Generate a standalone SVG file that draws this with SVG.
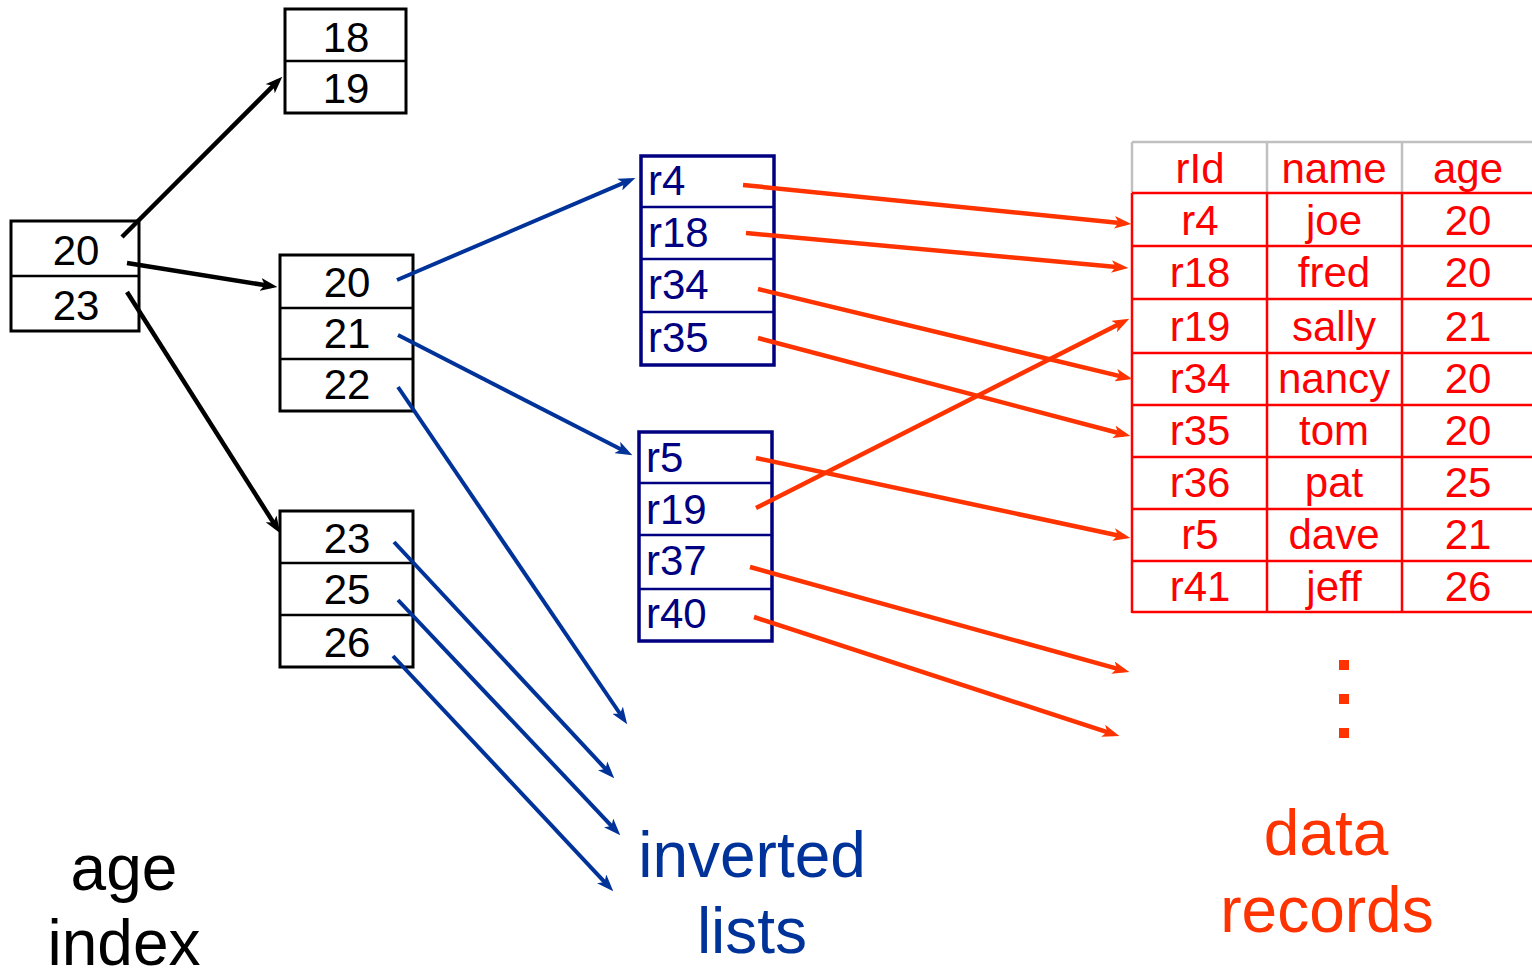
<svg xmlns="http://www.w3.org/2000/svg" width="1532" height="972" viewBox="0 0 1532 972">
<style>
text{font-family:"Liberation Sans",Arial,sans-serif}
.idx rect,.idx line{fill:none;stroke:#000;stroke-width:3}
.idx line{stroke-width:2.5}
.idx text{font-size:42px;fill:#000;text-anchor:middle}
.inv rect,.inv line{fill:none;stroke:#000080;stroke-width:3.5}
.inv line{stroke-width:2.5}
.inv text{font-size:42px;fill:#000080}
.tbl line{stroke:#f00;stroke-width:2.5}
.tbl line.hd{stroke:#c0c0c0}
.tbl text{font-size:42px;fill:#f00;text-anchor:middle}
.ck{stroke:#000;stroke-width:4.5;fill:none}
.cb{stroke:#003399;stroke-width:4;fill:none}
.co{stroke:#ff3300;stroke-width:4.5;fill:none}
.big{font-size:64px;text-anchor:middle}
</style>
<defs>
<marker id="ak" viewBox="0 0 16 12" refX="10" refY="6" markerUnits="userSpaceOnUse" markerWidth="17" markerHeight="13" orient="auto"><path d="M0,0 L16,6 L0,12 L4,6 Z" fill="#000"/></marker>
<marker id="ab" viewBox="0 0 16 12" refX="10" refY="6" markerUnits="userSpaceOnUse" markerWidth="17" markerHeight="13" orient="auto"><path d="M0,0 L16,6 L0,12 L4,6 Z" fill="#003399"/></marker>
<marker id="ao" viewBox="0 0 16 12" refX="10" refY="6" markerUnits="userSpaceOnUse" markerWidth="17" markerHeight="13" orient="auto"><path d="M0,0 L16,6 L0,12 L4,6 Z" fill="#ff3300"/></marker>
</defs>
<rect width="1532" height="972" fill="#fff"/>

<g id="idx-root" class="idx">
<rect x="11" y="221" width="128" height="110"/>
<line x1="11" y1="276" x2="139" y2="276"/>
<text x="76" y="265">20</text>
<text x="76" y="320">23</text>
</g>
<g id="idx-18" class="idx">
<rect x="285" y="9" width="121" height="104"/>
<line x1="285" y1="61" x2="406" y2="61"/>
<text x="346" y="52">18</text>
<text x="346" y="103">19</text>
</g>
<g id="idx-20" class="idx">
<rect x="280" y="255" width="133" height="156"/>
<line x1="280" y1="308" x2="413" y2="308"/>
<line x1="280" y1="359" x2="413" y2="359"/>
<text x="347" y="297">20</text>
<text x="347" y="348">21</text>
<text x="347" y="399">22</text>
</g>
<g id="idx-23" class="idx">
<rect x="280" y="511" width="133" height="156"/>
<line x1="280" y1="563" x2="413" y2="563"/>
<line x1="280" y1="615" x2="413" y2="615"/>
<text x="347" y="553">23</text>
<text x="347" y="604">25</text>
<text x="347" y="657">26</text>
</g>

<g id="inv-1" class="inv">
<rect x="641" y="156" width="133" height="209"/>
<line x1="641" y1="207" x2="774" y2="207"/>
<line x1="641" y1="259" x2="774" y2="259"/>
<line x1="641" y1="312" x2="774" y2="312"/>
<text x="648" y="195">r4</text>
<text x="648" y="247">r18</text>
<text x="648" y="299">r34</text>
<text x="648" y="352">r35</text>
</g>
<g id="inv-2" class="inv">
<rect x="639" y="432" width="133" height="209"/>
<line x1="639" y1="483" x2="772" y2="483"/>
<line x1="639" y1="535" x2="772" y2="535"/>
<line x1="639" y1="589" x2="772" y2="589"/>
<text x="646" y="472">r5</text>
<text x="646" y="524">r19</text>
<text x="646" y="575">r37</text>
<text x="646" y="628">r40</text>
</g>

<g id="records" class="tbl">
<line class="hd" x1="1132" y1="142" x2="1532" y2="142"/>
<line class="hd" x1="1132" y1="142" x2="1132" y2="193"/>
<line class="hd" x1="1267" y1="142" x2="1267" y2="193"/>
<line class="hd" x1="1402" y1="142" x2="1402" y2="193"/>
<line x1="1132" y1="193" x2="1532" y2="193"/>
<line x1="1132" y1="246" x2="1532" y2="246"/>
<line x1="1132" y1="299" x2="1532" y2="299"/>
<line x1="1132" y1="353" x2="1532" y2="353"/>
<line x1="1132" y1="405" x2="1532" y2="405"/>
<line x1="1132" y1="457" x2="1532" y2="457"/>
<line x1="1132" y1="509" x2="1532" y2="509"/>
<line x1="1132" y1="561" x2="1532" y2="561"/>
<line x1="1132" y1="612" x2="1532" y2="612"/>
<line x1="1132" y1="193" x2="1132" y2="613"/>
<line x1="1267" y1="193" x2="1267" y2="613"/>
<line x1="1402" y1="193" x2="1402" y2="613"/>
<text x="1200" y="183">rId</text><text x="1334" y="183">name</text><text x="1468" y="183">age</text>
<text x="1200" y="235">r4</text><text x="1334" y="235">joe</text><text x="1468" y="235">20</text>
<text x="1200" y="287">r18</text><text x="1334" y="287">fred</text><text x="1468" y="287">20</text>
<text x="1200" y="341">r19</text><text x="1334" y="341">sally</text><text x="1468" y="341">21</text>
<text x="1200" y="393">r34</text><text x="1334" y="393">nancy</text><text x="1468" y="393">20</text>
<text x="1200" y="445">r35</text><text x="1334" y="445">tom</text><text x="1468" y="445">20</text>
<text x="1200" y="497">r36</text><text x="1334" y="497">pat</text><text x="1468" y="497">25</text>
<text x="1200" y="549">r5</text><text x="1334" y="549">dave</text><text x="1468" y="549">21</text>
<text x="1200" y="601">r41</text><text x="1334" y="601">jeff</text><text x="1468" y="601">26</text>
</g>

<g id="dots" fill="#ff3300">
<rect x="1339" y="660" width="10" height="10"/>
<rect x="1339" y="694" width="10" height="10"/>
<rect x="1339" y="728" width="10" height="10"/>
</g>

<g id="connectors">
<line class="ck" x1="122" y1="237" x2="277.8" y2="81.2" marker-end="url(#ak)"/>
<line class="ck" x1="127" y1="263" x2="271.1" y2="286.1" marker-end="url(#ak)"/>
<line class="ck" x1="127" y1="292" x2="276.8" y2="527.9" marker-end="url(#ak)"/>
<line class="cb" x1="397" y1="280" x2="629.5" y2="180.4" marker-end="url(#ab)"/>
<line class="cb" x1="398" y1="335" x2="626.7" y2="452.3" marker-end="url(#ab)"/>
<line class="cb" x1="398" y1="387" x2="623.6" y2="719" marker-end="url(#ab)"/>
<line class="cb" x1="394" y1="542" x2="609.9" y2="773.6" marker-end="url(#ab)"/>
<line class="cb" x1="398" y1="600" x2="615.9" y2="830.6" marker-end="url(#ab)"/>
<line class="cb" x1="393" y1="656" x2="608.9" y2="886.6" marker-end="url(#ab)"/>
<line class="co" x1="743" y1="185" x2="1125" y2="223.4" marker-end="url(#ao)"/>
<line class="co" x1="746" y1="233" x2="1122" y2="267.5" marker-end="url(#ao)"/>
<line class="co" x1="758" y1="289" x2="1126.2" y2="377.6" marker-end="url(#ao)"/>
<line class="co" x1="758" y1="338" x2="1124.2" y2="434.5" marker-end="url(#ao)"/>
<line class="co" x1="756" y1="508" x2="1123.6" y2="321.7" marker-end="url(#ao)"/>
<line class="co" x1="756" y1="458" x2="1124.1" y2="536.7" marker-end="url(#ao)"/>
<line class="co" x1="750" y1="567" x2="1123.2" y2="670.4" marker-end="url(#ao)"/>
<line class="co" x1="754" y1="617" x2="1113.3" y2="734.1" marker-end="url(#ao)"/>
</g>

<g id="labels">
<text class="big" x="124" y="890" fill="#000">age</text>
<text class="big" x="124" y="965" fill="#000">index</text>
<text class="big" x="752" y="877" fill="#003399">inverted</text>
<text class="big" x="752" y="953" fill="#003399">lists</text>
<text class="big" x="1326" y="855" fill="#ff3300">data</text>
<text class="big" x="1327" y="932" fill="#ff3300">records</text>
</g>
</svg>
